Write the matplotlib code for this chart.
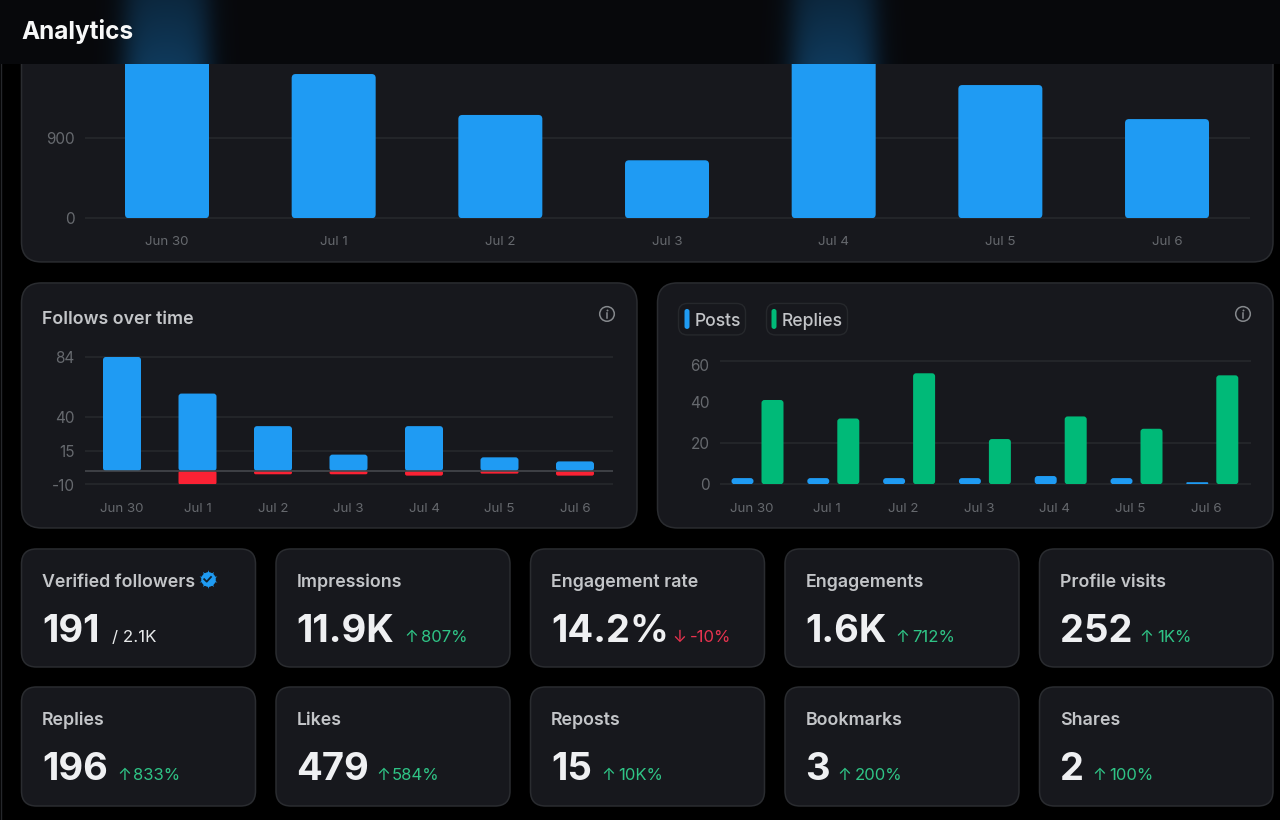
import numpy as np
import matplotlib.pyplot as plt
from matplotlib.patches import FancyBboxPatch, Circle
from matplotlib.transforms import ScaledTranslation

W, H = 1280, 820

plt.rcParams['font.family'] = ['Inter', 'DejaVu Sans']

days = ["Jun 30", "Jul 1", "Jul 2", "Jul 3", "Jul 4", "Jul 5", "Jul 6"]

# top chart, Jun 30 and Jul 4 run behind the header so those two are guesses
top_values = [1900, 1610, 1153, 647, 1950, 1487, 1107]
top_ticks = [0, 900]

follows_gain = [84, 57, 33, 12, 33, 10, 7]
follows_loss = [0, -10, -2.5, -2.5, -3.5, -2, -3.5]
follows_ticks = [-10, 15, 40, 84]

posts = [3, 3, 3, 3, 4, 3, 1]
replies = [41, 32, 54, 22, 33, 27, 53]
activity_ticks = [0, 20, 40, 60]
activity_grid = [0, 20, 60]

kpi_titles = ["Verified followers", "Impressions", "Engagement rate", "Engagements", "Profile visits",
              "Replies", "Likes", "Reposts", "Bookmarks", "Shares"]
kpi_values = ["191", "11.9K", "14.2%", "1.6K", "252", "196", "479", "15", "3", "2"]
kpi_deltas = [None, "807%", "-10%", "712%", "1K%", "833%", "584%", "10K%", "200%", "100%"]
kpi_arrow_x = [None, 411, 679, 902, 1146, 124, 383, 608, 844, 1099]
kpi_delta_x = [None, 420.5, 690, 912, 1157, 133, 392, 618, 855, 1109]

BLUE = "#1f9bf3"
GREEN = "#00ba78"
RED = "#fb2234"
CARD = "#17181d"
EDGE = "#2a2c30"
GRID = "#26282c"
TICK = "#66696e"
TITLE = "#c3c5c8"
UP = "#2fc486"
DOWN = "#e8334f"


def rounded_bar(ax, x, y0, y1, width, color, radius=3, zorder=3):
    # radius is in pixels, the patch itself stays in data units
    box = ax.get_window_extent()
    x_per_px = (ax.get_xlim()[1] - ax.get_xlim()[0]) / box.width
    y_per_px = (ax.get_ylim()[1] - ax.get_ylim()[0]) / box.height
    low, high = min(y0, y1), max(y0, y1)
    radius = min(radius, (high - low) / y_per_px / 2, width / x_per_px / 2)
    patch = FancyBboxPatch(
        (x - width / 2, low), width, high - low,
        boxstyle=f"round,pad=0,rounding_size={radius * x_per_px}",
        mutation_aspect=y_per_px / x_per_px,
        fc=color, ec="none", zorder=zorder,
    )
    ax.add_patch(patch)


def chart_axes(left, right, top, bottom, first_px, step_px, ylim, labelpad):
    ax = fig.add_axes([left / W, 1 - bottom / H, (right - left) / W, (bottom - top) / H], zorder=2)
    ax.patch.set_visible(False)
    ax.set_xlim((left - first_px) / step_px, (right - first_px) / step_px)
    ax.set_ylim(*ylim)
    for side in ax.spines.values():
        side.set_visible(False)
    ax.set_xticks(range(len(days)), days)
    ax.tick_params(axis="x", length=0, pad=labelpad, labelsize=9.6, labelcolor=TICK)
    ax.tick_params(axis="y", length=0, pad=7.5, labelsize=11, labelcolor=TICK)
    return ax


def card(ax, x0, y0, x1, y1, radius, fc=CARD, ec=EDGE, lw=1.1):
    ax.add_patch(FancyBboxPatch(
        (x0, y0), x1 - x0, y1 - y0,
        boxstyle=f"round,pad=0,rounding_size={radius}",
        fc=fc, ec=ec, lw=lw, zorder=1,
    ))


def info_icon(ax, x, y):
    ax.add_patch(Circle((x, y), 7.3, fc="none", ec="#85888c", lw=1.1, zorder=3))
    ax.plot([x, x], [y - 0.5, y + 4], color="#85888c", lw=1.1, zorder=3)
    ax.plot([x], [y - 3.6], "o", ms=1.4, mew=0, color="#85888c", zorder=3)


# the small extra keeps the height from rounding down to 819 pixels
fig = plt.figure(figsize=(W / 100, H / 100 + 0.001), dpi=100, facecolor="#000000")

# page layer in pixel coordinates, y going down
page = fig.add_axes([0, 0, 1, 1], zorder=0)
page.set_xlim(0, W)
page.set_ylim(H, 0)
page.axis("off")

page.plot([0.5, 0.5], [0, H], color="#25272b", lw=1)
card(page, 21.5, -30, 1273, 262, 20)
card(page, 21.5, 283, 637, 528, 20)
card(page, 657.5, 283, 1273, 528, 20)

page.text(42, 324, "Follows over time", fontsize=12.8, fontweight="semibold", color=TITLE, va="baseline", zorder=3)
info_icon(page, 607, 314)
info_icon(page, 1243, 314)

# legend chips
card(page, 678.5, 303.5, 745.5, 335, 9, ec=GRID, lw=1)
card(page, 766.5, 303.5, 847.5, 335, 9, ec=GRID, lw=1)
page.add_patch(FancyBboxPatch((684.5, 309), 5, 20, boxstyle="round,pad=0,rounding_size=2.5", fc=BLUE, ec="none", zorder=3))
page.add_patch(FancyBboxPatch((771.5, 309), 5, 20, boxstyle="round,pad=0,rounding_size=2.5", fc=GREEN, ec="none", zorder=3))
page.text(694.5, 326, "Posts", fontsize=12.6, fontweight="medium", color=TITLE, va="baseline", zorder=3)
page.text(782, 326, "Replies", fontsize=12.6, fontweight="medium", color=TITLE, va="baseline", zorder=3)

# stat cards
card_left = [21.5, 276, 530.5, 785, 1039.5]
card_right = [255.5, 510, 764.5, 1019, 1273]
card_rows = [(549, 667), (687, 806)]
for i, name in enumerate(kpi_titles):
    row = i // 5
    col = i % 5
    x0, x1 = card_left[col], card_right[col]
    y0, y1 = card_rows[row]
    card(page, x0, y0, x1, y1, 15)
    page.text(x0 + 20.5, y0 + 37.5, name, fontsize=12.8, fontweight="semibold", color=TITLE, va="baseline", zorder=3)
    page.text(x0 + 20.5, y0 + 93, kpi_values[i], fontsize=27.5, fontweight="bold", color="#eff0f2", va="baseline", zorder=3)
    if kpi_deltas[i] is not None:
        shade = DOWN if kpi_deltas[i].startswith("-") else UP
        arrow = "↓" if kpi_deltas[i].startswith("-") else "↑"
        page.text(kpi_arrow_x[i], y0 + 93, arrow, fontsize=12, color=shade, ha="center", va="baseline", zorder=3)
        page.text(kpi_delta_x[i], y0 + 93, kpi_deltas[i], fontsize=12, color=shade, va="baseline", zorder=3)

page.text(112.5, 642, "/ 2.1K", fontsize=12.2, color="#e7e9ea", va="baseline", zorder=3)

# verified badge
page.plot([207.5], [579], marker=(10, 1, 0), ms=13.5, mfc=BLUE, mec=BLUE, mew=0, zorder=3)
page.plot([207.5], [579], "o", ms=10.5, mfc=BLUE, mec=BLUE, mew=0, zorder=3)
page.plot([204.2, 206.7, 211], [579.2, 581.7, 577], color="#10222f", lw=1.3, zorder=4)

# top chart
ax_top = chart_axes(85, 1250, 64, 218.3, 167, 166.67, (0, 1723), 12.5)
ax_top.set_yticks(top_ticks, [str(v) for v in top_ticks])
ax_top.hlines(top_ticks, *ax_top.get_xlim(), color=GRID, lw=1.2, zorder=1, clip_on=False)
for i, v in enumerate(top_values):
    rounded_bar(ax_top, i, 0, v, 84 / 166.67, BLUE, radius=4)

# follows chart
ax_follows = chart_axes(85, 613, 357, 484.5, 122, 75.5, (-10, 84), 13.5)
ax_follows.set_yticks(follows_ticks, [str(v) for v in follows_ticks])
ax_follows.hlines(follows_ticks, *ax_follows.get_xlim(), color=GRID, lw=1.2, zorder=1, clip_on=False)
for i in range(len(days)):
    rounded_bar(ax_follows, i, 0, follows_gain[i], 38 / 75.5, BLUE, radius=3)
    if follows_loss[i] < 0:
        rounded_bar(ax_follows, i, 0, follows_loss[i], 38 / 75.5, RED, radius=2)
ax_follows.hlines(0, *ax_follows.get_xlim(), color="#45484d", lw=1.2, zorder=4)

# posts and replies chart
ax_activity = chart_axes(720, 1251, 361, 484.3, 751.5, 75.8, (0, 60), 13.5)
ax_activity.set_yticks(activity_ticks, [str(v) for v in activity_ticks])
ax_activity.hlines(activity_grid, *ax_activity.get_xlim(), color=GRID, lw=1.2, zorder=1, clip_on=False)
for i in range(len(days)):
    rounded_bar(ax_activity, i - 9 / 75.8, 0, posts[i], 22 / 75.8, BLUE, radius=3)
    rounded_bar(ax_activity, i + 21 / 75.8, 0, replies[i], 22 / 75.8, GREEN, radius=3)
# the 60 label sits a little under its line in the original
label_60 = ax_activity.get_yticklabels()[-1]
label_60.set_transform(label_60.get_transform() + ScaledTranslation(0, -4 / 100, fig.dpi_scale_trans))

# header bar with the two blue glows coming out of the tall bars
header = fig.add_axes([0, 1 - 64 / H, 1, 64 / H], zorder=5)
header.set_xlim(0, W)
header.set_ylim(64, 0)
header.axis("off")
xx = np.arange(W) + 0.5
yy = np.linspace(0.66, 1, 64)[:, None]
glow = np.zeros(W)
for mid in (167, 834):
    glow += 0.5 * (np.tanh((xx - (mid - 41)) / 15) - np.tanh((xx - (mid + 41)) / 15))
base = np.array([7, 8, 11])
peak = np.array([15, 58, 92])
rgb = base[None, None, :] + (peak - base)[None, None, :] * (glow[None, :] * yy)[:, :, None]
header.imshow(rgb.astype(np.uint8), extent=(0, W, 64, 0), aspect="auto", zorder=0)
header.text(21, 39, "Analytics", fontsize=17.5, fontweight="bold", color="#f7f8f8", va="baseline", zorder=2)

fig.savefig("out.png", dpi=100, facecolor=fig.get_facecolor())
